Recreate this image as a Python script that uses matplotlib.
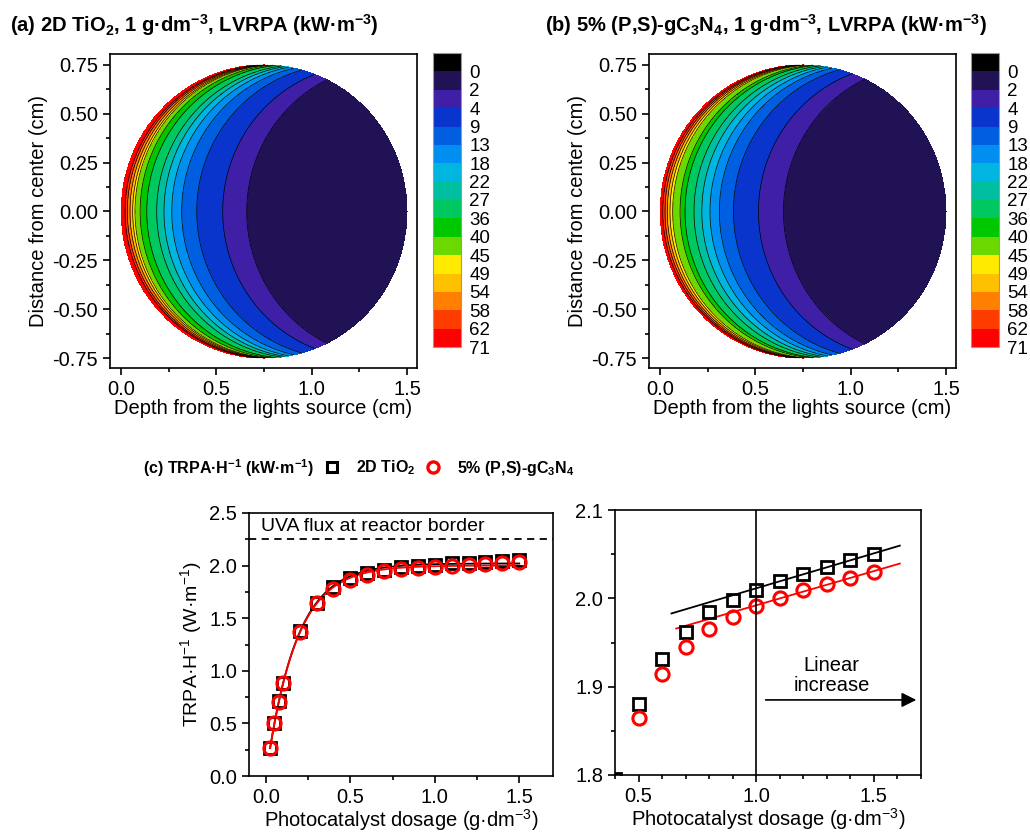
import numpy as np
import matplotlib
matplotlib.use('Agg')
from matplotlib import pyplot as plt
from matplotlib import font_manager
from matplotlib.lines import Line2D
from matplotlib.ticker import MultipleLocator, FormatStrFormatter

plt.rcParams['font.family'] = ['Liberation Sans', 'DejaVu Sans']
plt.rcParams['mathtext.default'] = 'regular'
plt.rcParams['axes.unicode_minus'] = False
plt.rcParams['axes.linewidth'] = 1.2

W, H = 1030, 835

# LVRPA contour levels (kW m-3), black band is below 0
levels = [-1, 0, 2, 4, 9, 13, 18, 22, 27, 36, 40, 45, 49, 54, 58, 62, 71]
level_colors = ['#000000', '#211256', '#3f1fa5', '#0a35cc', '#005fe0', '#008ff0',
                '#00b5e0', '#00bfa0', '#00c860', '#00c800', '#6bd800', '#ffea00',
                '#ffc000', '#ff7f00', '#ff3c00', '#ff0000']

lvrpa_at_depth = [71, 62, 58, 54, 49, 45, 40, 36, 27, 22, 18, 13, 9, 4, 2, 0.3]
depth_tio2 = [0.0, 0.021, 0.033, 0.047, 0.061, 0.073, 0.100, 0.135, 0.187, 0.225,
              0.266, 0.318, 0.397, 0.533, 0.659, 1.5]
depth_gcn = [0.0, 0.014, 0.026, 0.038, 0.052, 0.066, 0.105, 0.131, 0.178, 0.219,
             0.262, 0.311, 0.385, 0.516, 0.647, 1.5]
reactor_radius = 0.75

# TRPA per reactor length (W m-1) vs dosage (g dm-3)
dosage = [0.025, 0.05, 0.075, 0.1, 0.2, 0.3, 0.4, 0.5, 0.6, 0.7, 0.8, 0.9,
          1.0, 1.1, 1.2, 1.3, 1.4, 1.5]
trpa_tio2 = [0.27, 0.50, 0.71, 0.88, 1.38, 1.64, 1.795, 1.880, 1.931, 1.962, 1.984,
             1.998, 2.010, 2.020, 2.028, 2.036, 2.043, 2.050]
trpa_gcn = [0.27, 0.50, 0.70, 0.88, 1.37, 1.64, 1.78, 1.864, 1.914, 1.945, 1.965,
            1.979, 1.991, 2.000, 2.009, 2.016, 2.023, 2.030]
uva_flux = 2.25
linear_from = 1.0

TICK = 14.5
LABEL = 14.5


def has_font(name):
    try:
        font_manager.findfont(font_manager.FontProperties(family=name),
                              fallback_to_default=False)
        return True
    except ValueError:
        return False


if has_font('Liberation Sans Narrow'):
    narrow, narrow_size = ['Liberation Sans Narrow', 'DejaVu Sans'], 14
else:
    narrow, narrow_size = ['Liberation Sans', 'DejaVu Sans'], 11.5


def rect(l, t, r, b):
    return [l / W, 1 - b / H, (r - l) / W, (b - t) / H]


def ticks_out(ax):
    ax.tick_params(which='both', direction='out', labelsize=TICK, width=1.2)
    ax.tick_params(which='major', length=5)
    ax.tick_params(which='minor', length=3)


def draw_lvrpa(fig, ax, cax, depth):
    x = np.linspace(0, 2 * reactor_radius, 801)
    y = np.linspace(-reactor_radius, reactor_radius, 801)
    X, Y = np.meshgrid(x, y)
    half = np.sqrt(np.clip(reactor_radius**2 - Y**2, 0, None))
    s = X - (reactor_radius - half)  # depth along the light path
    inside = (X - reactor_radius)**2 + Y**2 <= reactor_radius**2
    val = np.exp(np.interp(s, depth, np.log(lvrpa_at_depth)))
    val = np.minimum(val, 70.9)
    val = np.where(inside, val, np.nan)
    cs = ax.contourf(X, Y, val, levels=levels, colors=level_colors)
    ax.contour(X, Y, val, levels=levels[1:-1], colors='k', linewidths=0.5)

    ax.set_xlim(-0.058, 1.552)
    ax.set_ylim(-0.80, 0.805)
    ax.xaxis.set_major_locator(MultipleLocator(0.5))
    ax.xaxis.set_minor_locator(MultipleLocator(0.25))
    ax.yaxis.set_major_locator(MultipleLocator(0.25))
    ax.yaxis.set_minor_locator(MultipleLocator(0.125))
    ax.xaxis.set_major_formatter(FormatStrFormatter('%.1f'))
    ax.yaxis.set_major_formatter(FormatStrFormatter('%.2f'))
    ticks_out(ax)
    ax.set_xlabel('Depth from the lights source (cm)', fontsize=LABEL, labelpad=0)
    ax.set_ylabel('Distance from center (cm)', fontsize=LABEL, labelpad=3)

    cb = fig.colorbar(cs, cax=cax, ticks=levels[1:])
    cb.set_ticklabels([str(v) for v in levels[1:]])
    cax.invert_yaxis()
    cax.tick_params(length=0, labelsize=13.5, pad=6)
    cb.outline.set_edgecolor('0.6')
    cb.outline.set_linewidth(0.8)


def fit_saturation(x, y):
    # y = a (1 - exp(-b x)), best b on a grid, a closed form
    x = np.asarray(x)
    y = np.asarray(y)
    best = None
    for b in np.linspace(1, 15, 1401):
        g = 1 - np.exp(-b * x)
        a = (g @ y) / (g @ g)
        err = np.sum((y - a * g)**2)
        if best is None or err < best[0]:
            best = (err, a, b)
    return best[1], best[2]


def main():
    fig = plt.figure(figsize=(W / 100, H / 100), dpi=100)

    ax_a = fig.add_axes(rect(110, 54, 417, 368))
    cax_a = fig.add_axes(rect(433, 53, 461, 347))
    draw_lvrpa(fig, ax_a, cax_a, depth_tio2)
    ax_b = fig.add_axes(rect(649, 54, 956, 368))
    cax_b = fig.add_axes(rect(971, 53, 999, 347))
    draw_lvrpa(fig, ax_b, cax_b, depth_gcn)

    fig.text(10 / W, 1 - 25 / H, '(a) 2D TiO$_2$, 1 g·dm$^{-3}$, LVRPA (kW·m$^{-3}$)',
             fontsize=14.5, weight='bold', va='center')
    fig.text(545 / W, 1 - 25 / H, '(b) 5% (P,S)-gC$_3$N$_4$, 1 g·dm$^{-3}$, LVRPA (kW·m$^{-3}$)',
             fontsize=14.5, weight='bold', va='center')

    sq = dict(marker='s', ms=9, mfc='none', mec='k', mew=2, ls='none')
    ci = dict(marker='o', ms=9.5, mfc='none', mec='#ff0000', mew=2.2, ls='none')

    # (c) left: full range with saturation fit
    ax_c = fig.add_axes(rect(249, 513, 553, 776))
    xs = np.linspace(dosage[0], dosage[-1], 300)
    a1, b1 = fit_saturation(dosage, trpa_tio2)
    a2, b2 = fit_saturation(dosage, trpa_gcn)
    ax_c.plot(xs, a1 * (1 - np.exp(-b1 * xs)), color='k', lw=1.3)
    ax_c.plot(xs, a2 * (1 - np.exp(-b2 * xs)), color='#ff0000', lw=1.3)
    ax_c.plot(dosage, trpa_tio2, **sq)
    ax_c.plot(dosage, trpa_gcn, **ci)
    ax_c.axhline(uva_flux, color='k', ls=(0, (4, 3)), lw=1.3)
    ax_c.text(-0.03, uva_flux + 0.04, 'UVA flux at reactor border', fontsize=14, va='bottom')
    ax_c.set_xlim(-0.1, 1.7)
    ax_c.set_ylim(0, 2.5)
    ax_c.xaxis.set_major_locator(MultipleLocator(0.5))
    ax_c.xaxis.set_minor_locator(MultipleLocator(0.25))
    ax_c.yaxis.set_major_locator(MultipleLocator(0.5))
    ax_c.yaxis.set_minor_locator(MultipleLocator(0.25))
    ax_c.xaxis.set_major_formatter(FormatStrFormatter('%.1f'))
    ax_c.yaxis.set_major_formatter(FormatStrFormatter('%.1f'))
    ticks_out(ax_c)
    ax_c.set_xlabel('Photocatalyst dosage (g·dm$^{-3}$)', fontsize=LABEL, labelpad=0)
    ax_c.set_ylabel('TRPA·H$^{-1}$ (W·m$^{-1}$)', fontsize=14, labelpad=4)

    # (c) right: zoom with linear fit above 1 g/dm3
    ax_d = fig.add_axes(rect(615, 510, 921, 775))
    d = np.asarray(dosage)
    sel = d >= linear_from
    k1 = np.polyfit(d[sel], np.asarray(trpa_tio2)[sel], 1)
    k2 = np.polyfit(d[sel], np.asarray(trpa_gcn)[sel], 1)
    x1 = np.array([0.64, 1.61])
    x2 = np.array([0.66, 1.61])
    ax_d.plot(x1, np.polyval(k1, x1), color='k', lw=1.3)
    ax_d.plot(x2, np.polyval(k2, x2), color='#ff0000', lw=1.3)
    ax_d.plot(dosage, trpa_tio2, **sq)
    ax_d.plot(dosage, trpa_gcn, **ci)
    ax_d.axvline(linear_from, color='k', lw=1.2)
    ax_d.annotate('', xy=(1.68, 1.885), xytext=(1.04, 1.885),
                  arrowprops=dict(arrowstyle='-|>', color='k', lw=1.2,
                                  mutation_scale=22, shrinkA=0, shrinkB=0))
    ax_d.text(1.32, 1.913, 'Linear\nincrease', fontsize=14.5, ha='center', va='center',
              linespacing=1.05)
    ax_d.set_xlim(0.4, 1.7)
    ax_d.set_ylim(1.8, 2.1)
    ax_d.xaxis.set_major_locator(MultipleLocator(0.5))
    ax_d.xaxis.set_minor_locator(MultipleLocator(0.1))
    ax_d.yaxis.set_major_locator(MultipleLocator(0.1))
    ax_d.yaxis.set_minor_locator(MultipleLocator(0.05))
    ax_d.xaxis.set_major_formatter(FormatStrFormatter('%.1f'))
    ax_d.yaxis.set_major_formatter(FormatStrFormatter('%.1f'))
    ticks_out(ax_d)
    ax_d.set_xlabel('Photocatalyst dosage (g·dm$^{-3}$)', fontsize=LABEL, labelpad=0)

    # legend row for (c)
    fig.text(143 / W, 1 - 468 / H, '(c) TRPA·H$^{-1}$ (kW·m$^{-1}$)', fontsize=narrow_size,
             family=narrow, weight='bold', va='center')
    handles = [Line2D([], [], marker='s', ms=7, mfc='none', mec='k', mew=2.2, ls='none'),
               Line2D([], [], marker='o', ms=8, mfc='none', mec='#ff0000', mew=2.4, ls='none')]
    fig.legend(handles, ['2D TiO$_2$', '5% (P,S)-gC$_3$N$_4$'], loc='center left',
               bbox_to_anchor=(324 / W, 1 - 468 / H), ncol=2, frameon=False,
               prop=dict(family=narrow, size=narrow_size, weight='bold'),
               handlelength=1.0, handletextpad=1.0, columnspacing=0.6,
               borderpad=0, borderaxespad=0)

    fig.savefig('out.png', dpi=100)


if __name__ == '__main__':
    main()
